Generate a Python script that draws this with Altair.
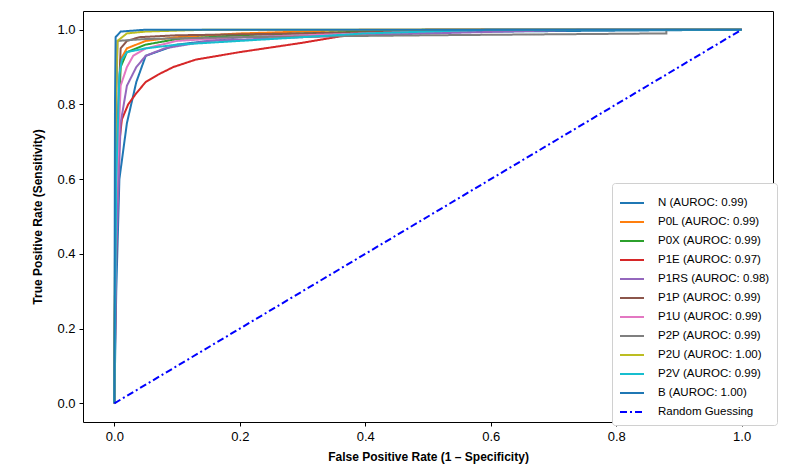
import altair as alt
import pandas as pd

labels = ["N (AUROC: 0.99)", "P0L (AUROC: 0.99)", "P0X (AUROC: 0.99)", "P1E (AUROC: 0.97)",
          "P1RS (AUROC: 0.98)", "P1P (AUROC: 0.99)", "P1U (AUROC: 0.99)", "P2P (AUROC: 0.99)",
          "P2U (AUROC: 1.00)", "P2V (AUROC: 0.99)", "B (AUROC: 1.00)", "Random Guessing"]
colors = ["#1f77b4", "#ff7f0e", "#2ca02c", "#d62728", "#9467bd", "#8c564b", "#e377c2",
          "#7f7f7f", "#bcbd22", "#17becf", "#1f77b4", "#0000ff"]

N_fpr = [0, 0.003, 0.008, 0.02, 0.035, 0.05, 0.1, 0.2, 0.4, 0.6, 1]
N_tpr = [0, 0.3, 0.6, 0.75, 0.86, 0.93, 0.96, 0.98, 0.99, 0.995, 1]
P0L_fpr = [0, 0.002, 0.01, 0.02, 0.05, 0.1, 0.2, 0.4, 1]
P0L_tpr = [0, 0.6, 0.92, 0.95, 0.97, 0.98, 0.99, 1, 1]
P0X_fpr = [0, 0.002, 0.01, 0.02, 0.05, 0.1, 0.2, 0.3, 0.5, 1]
P0X_tpr = [0, 0.55, 0.9, 0.94, 0.96, 0.975, 0.985, 0.99, 1, 1]
P1E_fpr = [0, 0.002, 0.005, 0.008, 0.012, 0.022, 0.035, 0.05, 0.07, 0.094, 0.13, 0.2, 0.3, 0.37, 0.5, 1]
P1E_tpr = [0, 0.3, 0.6, 0.7, 0.76, 0.8, 0.83, 0.86, 0.88, 0.9, 0.92, 0.94, 0.965, 0.985, 1, 1]
P1RS_fpr = [0, 0.003, 0.01, 0.02, 0.035, 0.05, 0.08, 0.15, 0.3, 0.5, 0.75, 1]
P1RS_tpr = [0, 0.4, 0.75, 0.85, 0.9, 0.93, 0.95, 0.97, 0.98, 0.99, 1, 1]
P1P_fpr = [0, 0.002, 0.01, 0.02, 0.04, 0.1, 0.3, 0.6, 1]
P1P_tpr = [0, 0.6, 0.95, 0.97, 0.98, 0.985, 0.99, 1, 1]
P1U_fpr = [0, 0.002, 0.01, 0.02, 0.03, 0.05, 0.1, 0.2, 0.4, 0.6, 1]
P1U_tpr = [0, 0.5, 0.85, 0.9, 0.93, 0.95, 0.97, 0.98, 0.99, 1, 1]
P2P_fpr = [0, 0.002, 0.005, 0.05, 0.2, 0.5, 0.88, 0.88, 1]
P2P_tpr = [0, 0.7, 0.97, 0.975, 0.98, 0.985, 0.99, 1, 1]
P2U_fpr = [0, 0.002, 0.005, 0.02, 0.05, 0.15, 1]
P2U_tpr = [0, 0.8, 0.97, 0.99, 0.995, 1, 1]
P2V_fpr = [0, 0.003, 0.008, 0.012, 0.02, 0.05, 0.1, 0.2, 0.3, 0.4, 0.6, 1]
P2V_tpr = [0, 0.6, 0.88, 0.92, 0.94, 0.95, 0.96, 0.97, 0.98, 0.99, 1, 1]
B_fpr = [0, 0.001, 0.002, 0.01, 0.05, 1]
B_tpr = [0, 0.8, 0.98, 0.995, 1, 1]
RG_fpr = [0, 1]
RG_tpr = [0, 1]

series = [(N_fpr, N_tpr), (P0L_fpr, P0L_tpr), (P0X_fpr, P0X_tpr), (P1E_fpr, P1E_tpr),
          (P1RS_fpr, P1RS_tpr), (P1P_fpr, P1P_tpr), (P1U_fpr, P1U_tpr), (P2P_fpr, P2P_tpr),
          (P2U_fpr, P2U_tpr), (P2V_fpr, P2V_tpr), (B_fpr, B_tpr), (RG_fpr, RG_tpr)]

rows = []
for lab, (fx, ty) in zip(labels, series):
    for i, (a, b) in enumerate(zip(fx, ty)):
        rows.append({"label": lab, "fpr": a, "tpr": b, "i": i})
df = pd.DataFrame(rows)

dashes = [[1, 0]] * 11 + [[7, 3, 2, 3]]

font = "Liberation Sans"


def make_legend():
    return alt.Legend(title=None, orient="none", legendX=529, legendY=172,
                      symbolType="stroke", symbolStrokeWidth=2, symbolSize=576,
                      labelFontSize=11.5, labelFont=font, labelColor="black",
                      rowPadding=-6, labelOffset=13,
                      strokeColor="#d0d0d0", fillColor="white", cornerRadius=3,
                      padding=7, labelLimit=300)


chart = alt.Chart(df).mark_line(strokeWidth=2, clip=True).encode(
    x=alt.X("fpr:Q", scale=alt.Scale(domain=[-0.05, 1.05], nice=False, zero=False),
            axis=alt.Axis(values=[0, 0.2, 0.4, 0.6, 0.8, 1.0], format=".1f",
                          title="False Positive Rate (1 \u2013 Specificity)")),
    y=alt.Y("tpr:Q", scale=alt.Scale(domain=[-0.05, 1.05], nice=False, zero=False),
            axis=alt.Axis(values=[0, 0.2, 0.4, 0.6, 0.8, 1.0], format=".1f",
                          title="True Positive Rate (Sensitivity)")),
    color=alt.Color("label:N", scale=alt.Scale(domain=labels, range=colors), legend=make_legend()),
    strokeDash=alt.StrokeDash("label:N", scale=alt.Scale(domain=labels, range=dashes),
                              legend=make_legend()),
    detail="label:N",
    order="i:Q",
).properties(
    width=690, height=411,
    autosize=alt.AutoSizeParams(type="none"),
    padding={"left": 75, "top": 3, "right": 6, "bottom": 44},
).configure_view(
    stroke="black", strokeWidth=1
).configure_axis(
    grid=False, domain=False, tickColor="black", tickSize=4, tickWidth=1,
    labelFont=font, labelFontSize=13, labelColor="black", labelPadding=4,
    titleFont=font, titleFontSize=12, titleFontWeight="bold", titleColor="black",
).configure_axisX(titlePadding=8).configure_axisY(titlePadding=12)

chart.save("out.html", embed_options={"renderer": "svg", "actions": False})
